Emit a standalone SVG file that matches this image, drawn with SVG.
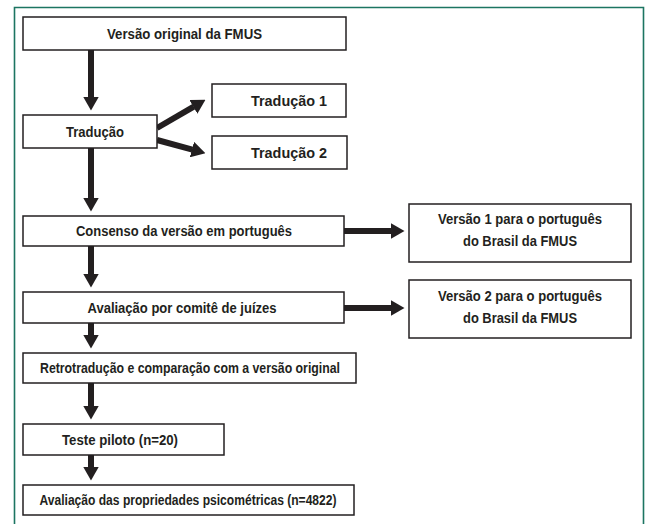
<svg xmlns="http://www.w3.org/2000/svg" width="647" height="524" viewBox="0 0 647 524">
<style>
.frame{fill:none;stroke:#1c7562;stroke-width:1.6}
.box{fill:#fff;stroke:#231f20;stroke-width:1.5}
.t{font-family:"Liberation Sans",Arial,sans-serif;font-weight:bold;font-size:14px;fill:#231f20;text-anchor:middle}
.c{stroke:#231f20;stroke-width:6;fill:none}
</style>
<defs>
<marker id="ah" markerUnits="userSpaceOnUse" markerWidth="14" markerHeight="16" viewBox="0 0 14 16" refX="0.5" refY="8" orient="auto">
<path d="M0,0 L14,8 L0,16 z" fill="#231f20"/>
</marker>
</defs>
<rect width="647" height="524" fill="#fff"/>
<path class="frame" d="M14.5,524 V7.5 H643.5 V524"/>
<g id="connectors">
<line class="c" x1="91" y1="50" x2="91" y2="97" marker-end="url(#ah)"/>
<line class="c" x1="157" y1="128" x2="193.8" y2="106.6" marker-end="url(#ah)"/>
<line class="c" x1="157" y1="140" x2="192.4" y2="149.6" marker-end="url(#ah)"/>
<line class="c" x1="91" y1="148" x2="91" y2="198" marker-end="url(#ah)"/>
<line class="c" x1="344" y1="231" x2="391" y2="231" marker-end="url(#ah)"/>
<line class="c" x1="91" y1="246" x2="91" y2="274" marker-end="url(#ah)"/>
<line class="c" x1="344" y1="308" x2="391" y2="308" marker-end="url(#ah)"/>
<line class="c" x1="91" y1="323" x2="91" y2="335" marker-end="url(#ah)"/>
<line class="c" x1="91" y1="383" x2="91" y2="406" marker-end="url(#ah)"/>
<line class="c" x1="91" y1="455" x2="91" y2="467" marker-end="url(#ah)"/>
</g>
<g id="n1"><rect class="box" x="23" y="17" width="323" height="33"/><text class="t" x="184.5" y="38.5" textLength="155" lengthAdjust="spacingAndGlyphs">Versão original da FMUS</text></g>
<g id="n2"><rect class="box" x="23" y="115" width="134" height="33"/><text class="t" x="95" y="136.5" textLength="58" lengthAdjust="spacingAndGlyphs">Tradução</text></g>
<g id="n3"><rect class="box" x="212" y="84" width="134" height="33"/><text class="t" x="289" y="105.5" textLength="76" lengthAdjust="spacingAndGlyphs">Tradução 1</text></g>
<g id="n4"><rect class="box" x="212" y="136" width="135" height="33"/><text class="t" x="289" y="157.5" textLength="76" lengthAdjust="spacingAndGlyphs">Tradução 2</text></g>
<g id="n5"><rect class="box" x="23" y="216" width="321" height="30"/><text class="t" x="184" y="236" textLength="216" lengthAdjust="spacingAndGlyphs">Consenso da versão em português</text></g>
<g id="n6"><rect class="box" x="409" y="204" width="222" height="58"/><text class="t" x="520" y="223.5" textLength="164" lengthAdjust="spacingAndGlyphs">Versão 1 para o português</text><text class="t" x="520" y="245.5" textLength="114" lengthAdjust="spacingAndGlyphs">do Brasil da FMUS</text></g>
<g id="n7"><rect class="box" x="23" y="292" width="321" height="31"/><text class="t" x="182" y="313" textLength="189" lengthAdjust="spacingAndGlyphs">Avaliação por comitê de juízes</text></g>
<g id="n8"><rect class="box" x="409" y="280" width="222" height="58"/><text class="t" x="520" y="300.5" textLength="164" lengthAdjust="spacingAndGlyphs">Versão 2 para o português</text><text class="t" x="520" y="322.5" textLength="114" lengthAdjust="spacingAndGlyphs">do Brasil da FMUS</text></g>
<g id="n9"><rect class="box" x="23" y="353" width="333" height="30"/><text class="t" x="190" y="373" textLength="300" lengthAdjust="spacingAndGlyphs">Retrotradução e comparação com a versão original</text></g>
<g id="n10"><rect class="box" x="23" y="424" width="201" height="31"/><text class="t" x="120" y="445" textLength="116" lengthAdjust="spacingAndGlyphs">Teste piloto (n=20)</text></g>
<g id="n11"><rect class="box" x="23" y="485" width="331" height="30"/><text class="t" x="188" y="505" textLength="297" lengthAdjust="spacingAndGlyphs">Avaliação das propriedades psicométricas (n=4822)</text></g>
</svg>
